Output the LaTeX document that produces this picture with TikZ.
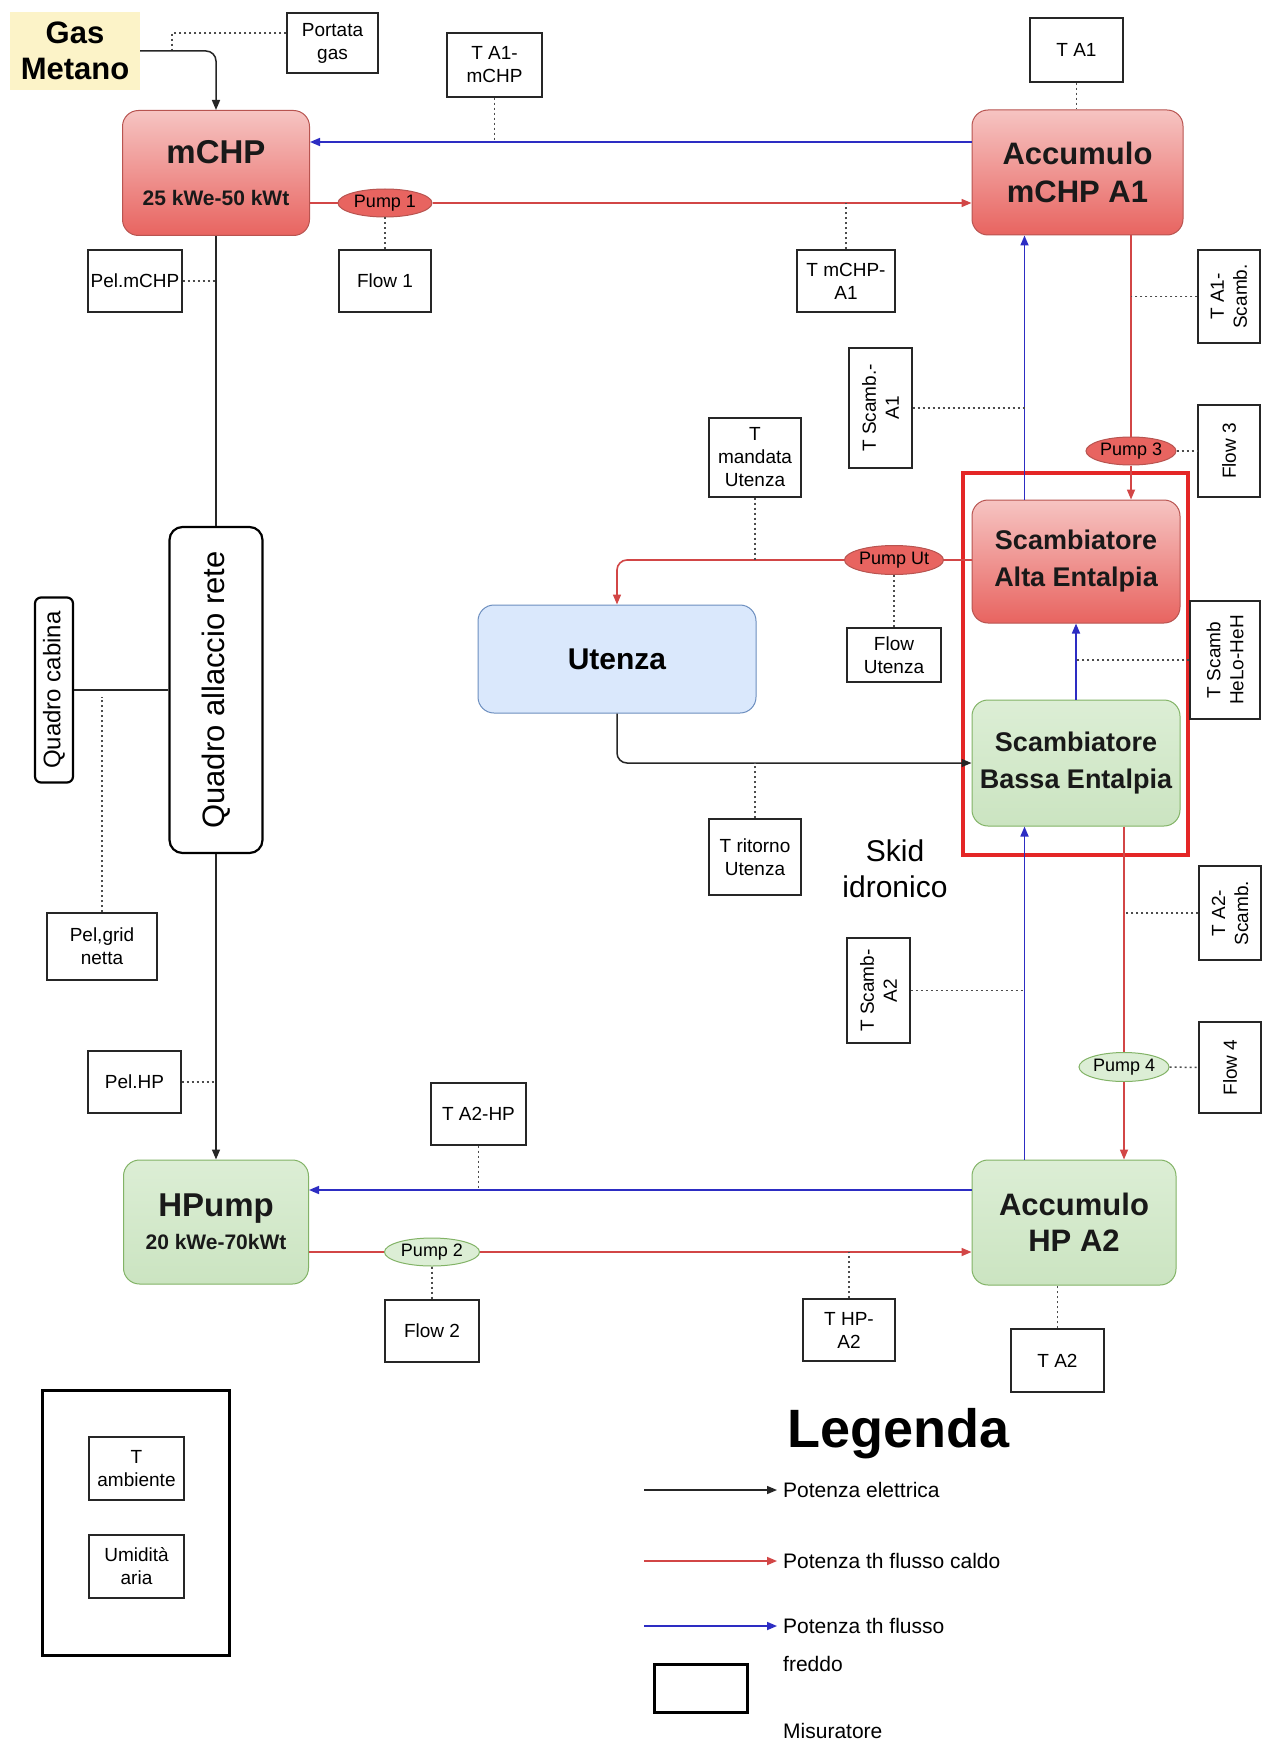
\documentclass[tikz,border=0pt]{standalone}
\usepackage{fontspec}
\setmainfont{Liberation Sans}
\usetikzlibrary{arrows.meta,shapes.geometric}
\definecolor{hotline}{RGB}{210,70,70}
\definecolor{coldline}{RGB}{45,45,195}
\definecolor{redtop}{RGB}{246,196,194}
\definecolor{redbot}{RGB}{232,100,96}
\definecolor{redstroke}{RGB}{184,84,80}
\definecolor{greentop}{RGB}{220,238,213}
\definecolor{greenbot}{RGB}{203,228,193}
\definecolor{greenstroke}{RGB}{130,179,102}
\definecolor{bluefill}{RGB}{218,232,252}
\definecolor{bluestroke}{RGB}{108,142,191}
\definecolor{gasfill}{RGB}{252,243,200}
\definecolor{skidred}{RGB}{228,38,38}
\tikzset{
  sz/.style 2 args={minimum width=#1,minimum height=#2},
  meas/.style={draw=black!85,line width=1.2pt,fill=white,align=center,inner sep=1pt,
    font=\fontsize{19}{23}\selectfont},
  hotbox/.style={draw=redstroke,line width=1pt,rounded corners=16pt,top color=redtop,
    bottom color=redbot,align=center,text=black!90},
  greenbox/.style={draw=greenstroke,line width=1pt,rounded corners=16pt,top color=greentop,
    bottom color=greenbot,align=center,text=black!90},
  pumphot/.style={ellipse,draw=redstroke,line width=1pt,fill=redbot,inner sep=0pt,
    font=\fontsize{18}{20}\selectfont},
  pumpgreen/.style={ellipse,draw=greenstroke,line width=1pt,fill=greentop,inner sep=0pt,
    font=\fontsize{18}{20}\selectfont},
  hot/.style={draw=hotline,line width=1.6pt},
  cold/.style={draw=coldline,line width=1.6pt},
  elec/.style={draw=black!85,line width=1.5pt},
  dotl/.style={draw=black!70,line width=1.5pt,dash pattern=on 2pt off 3pt},
  arr/.style={-{Triangle[length=10pt,width=8pt]}},
  legtxt/.style={anchor=west,inner sep=6pt,font=\fontsize{21}{25}\selectfont}
}
\begin{document}
\begin{tikzpicture}[x=1pt,y=-1pt]
\fill[white] (0,0) rectangle (1263,1744);
\useasboundingbox (0,0) rectangle (1263,1744);

% skid frame
\node[draw=skidred,line width=4.5pt,sz={225}{382}] (skid) at (1075.5,664) {};

% main units
\node[fill=gasfill,sz={130}{78},align=center,font=\fontsize{31}{36}\selectfont\bfseries] (gas) at (75,51) {Gas\\Metano};
\node[hotbox,sz={187}{125}] (mchp) at (216,173)
  {\fontsize{33}{36}\selectfont\bfseries mCHP\\[26pt]\fontsize{21}{24}\selectfont\bfseries 25 kWe-50 kWt};
\node[hotbox,sz={211}{125},font=\fontsize{31}{38}\selectfont\bfseries] (a1) at (1077.5,172.5) {Accumulo\\mCHP A1};
\node[hotbox,sz={208}{123},font=\fontsize{27}{37}\selectfont\bfseries] (alta) at (1076,561.5) {Scambiatore\\Alta Entalpia};
\node[greenbox,sz={208}{126},font=\fontsize{27}{37}\selectfont\bfseries] (bassa) at (1076,763) {Scambiatore\\Bassa Entalpia};
\node[draw=bluestroke,line width=1pt,fill=bluefill,rounded corners=16pt,sz={278}{108},
  font=\fontsize{30}{34}\selectfont\bfseries] (utenza) at (617,659) {Utenza};
\node[greenbox,sz={204}{125},font=\fontsize{31}{36}\selectfont\bfseries] (a2) at (1074,1222.5) {Accumulo\\HP A2};
\node[greenbox,sz={185}{124}] (hpump) at (216,1222)
  {\fontsize{33}{36}\selectfont\bfseries HPump\\[10pt]\fontsize{21}{24}\selectfont\bfseries 20 kWe-70kWt};
\node[draw=black,line width=2.2pt,fill=white,rounded corners=13pt,rotate=90,sz={326}{93},
  font=\fontsize{31}{34}\selectfont] (quadro) at (216,690) {Quadro allaccio rete};
\node[draw=black,line width=2.2pt,fill=white,rounded corners=6pt,rotate=90,sz={185}{38},inner sep=0pt,
  font=\fontsize{24}{26}\selectfont] (cabina) at (54,690) {Quadro cabina};
\node[align=center,font=\fontsize{30}{36}\selectfont] (skidlbl) at (895,869) {Skid\\idronico};

% pumps
\node[pumphot,sz={94}{28}] (pump1) at (385,203) {Pump 1};
\node[pumphot,sz={90}{28}] (pump3) at (1131,451) {Pump 3};
\node[pumphot,sz={91}{29}] (pumpUt) at (894,560) {Pump Ut};
\node[pumpgreen,sz={90}{29}] (pump4) at (1124,1067) {Pump 4};
\node[pumpgreen,sz={95}{28}] (pump2) at (432,1252) {Pump 2};

% measurement boxes
\node[meas,sz={91}{60}] (portata) at (332.5,43) {Portata\\gas};
\node[meas,sz={95}{64}] (tA1mchp) at (494.5,65) {T A1-\\mCHP};
\node[meas,sz={93}{64}] (tA1) at (1076.5,50) {T A1};
\node[meas,sz={92}{62}] (flow1) at (385,281) {Flow 1};
\node[meas,sz={98}{62}] (tmchpA1) at (846,281) {T mCHP-\\A1};
\node[meas,sz={94}{62}] (pelmchp) at (135,281) {Pel.mCHP};
\node[meas,rotate=90,sz={93}{62}] (tA1scamb) at (1229,296.5) {T A1-\\Scamb.};
\node[meas,rotate=90,sz={120}{63}] (tscambA1) at (880.5,408) {T Scamb.-\\A1};
\node[meas,rotate=90,sz={92}{62}] (flow3) at (1229,451) {Flow 3};
\node[meas,sz={92}{79}] (tmandata) at (755,457.5) {T\\mandata\\Utenza};
\node[meas,sz={94}{54}] (flowUt) at (894,655) {Flow\\Utenza};
\node[meas,rotate=90,sz={118}{70}] (tHe) at (1225,660) {T Scamb\\HeLo-HeH};
\node[meas,sz={92}{76}] (tritorno) at (755,857) {T ritorno\\Utenza};
\node[meas,rotate=90,sz={94}{62}] (tA2scamb) at (1230,913) {T A2-\\Scamb.};
\node[meas,rotate=90,sz={105}{63}] (tscambA2) at (878.5,990.5) {T Scamb-\\A2};
\node[meas,rotate=90,sz={91}{62}] (flow4) at (1230,1067.5) {Flow 4};
\node[meas,sz={93}{62}] (pelhp) at (134.5,1082) {Pel.HP};
\node[meas,sz={95}{62}] (tA2hp) at (478.5,1114) {T A2-HP};
\node[meas,sz={94}{62}] (flow2) at (432,1331) {Flow 2};
\node[meas,sz={92}{62}] (thpA2) at (849,1330) {T HP-\\A2};
\node[meas,sz={93}{63}] (tA2) at (1057.5,1360.5) {T A2};
\node[meas,sz={110}{67}] (pelgrid) at (102,946.5) {Pel,grid\\netta};

% environment box
\node[draw=black,line width=3pt,sz={187}{265}] (envbox) at (135.5,1522.5) {};
\node[meas,sz={95}{63}] (tamb) at (136.5,1468.5) {T\\ambiente};
\node[meas,sz={95}{63}] (umid) at (136.5,1566.5) {Umidità\\aria};

% coordinates
\coordinate (bluetop) at (0,142);
\coordinate (bluebot) at (0,1190);
\coordinate (colx) at (1024.5,0);
\coordinate (gastap) at (172,50);
\coordinate (gridtap) at (102,697);

% electrical connections
\draw[elec,arr,rounded corners=10pt] (gas.east) -| (mchp.north);
\draw[elec] (mchp.south) -- (mchp.south |- quadro.east);
\draw[elec,arr] (hpump.north |- quadro.west) -- (hpump.north);
\draw[elec] (cabina.south) -- (cabina.south -| quadro.north);

% hot / cold loops top
\draw[cold,arr] (a1.west |- bluetop) -- (mchp.east |- bluetop);
\draw[hot] (mchp.east |- pump1) -- (pump1.west);
\draw[hot,arr] (pump1.east) -- (a1.west |- pump1);
\draw[cold,arr] (alta.north -| colx) -- (a1.south -| colx);
\draw[hot] (a1.south -| pump3) -- (pump3.north);
\draw[hot,arr] (pump3.south) -- (alta.north -| pump3);
\draw[cold,arr] (bassa.north) -- (alta.south);
\draw[cold,arr] (a2.north -| colx) -- (bassa.south -| colx);
\draw[hot] (bassa.south -| pump4) -- (pump4.north);
\draw[hot,arr] (pump4.south) -- (a2.north -| pump4);
\draw[hot] (alta.west |- pumpUt) -- (pumpUt.east);
\draw[hot,arr,rounded corners=10pt] (pumpUt.west) -| (utenza.north);
\draw[elec,arr,rounded corners=10pt] (utenza.south) |- (bassa.west);

% bottom loop
\draw[cold,arr] (a2.west |- bluebot) -- (hpump.east |- bluebot);
\draw[hot] (hpump.east |- pump2) -- (pump2.west);
\draw[hot,arr] (pump2.east) -- (a2.west |- pump2);

% measurement taps
\draw[dotl] ([yshift=10pt]portata.west) -| (gastap);
\draw[dotl] (tA1mchp.south) -- (tA1mchp.south |- bluetop);
\draw[dotl] (tA1.south) -- (tA1.south |- a1.north);
\draw[dotl] (pump1.south) -- (flow1.north);
\draw[dotl] (tmchpA1.north) -- (tmchpA1.north |- pump1);
\draw[dotl] (pelmchp.east) -- (pelmchp.east -| mchp.south);
\draw[dotl] (tA1scamb.north) -- (tA1scamb.north -| pump3);
\draw[dotl] (tscambA1.south) -- (tscambA1.south -| colx);
\draw[dotl] (pump3.east) -- (flow3.north);
\draw[dotl] (tmandata.south) -- (tmandata.south |- pumpUt);
\draw[dotl] (pumpUt.south) -- (flowUt.north);
\draw[dotl] (tHe.north) -- (tHe.north -| bassa.north);
\draw[dotl] (tritorno.north) -- (tritorno.north |- bassa.west);
\draw[dotl] (tA2scamb.north) -- (tA2scamb.north -| pump4);
\draw[dotl] (tscambA2.south) -- (tscambA2.south -| colx);
\draw[dotl] (pump4.east) -- (flow4.north);
\draw[dotl] (pelhp.east) -- (pelhp.east -| hpump.north);
\draw[dotl] (tA2hp.south) -- (tA2hp.south |- bluebot);
\draw[dotl] (pump2.south) -- (flow2.north);
\draw[dotl] (thpA2.north) -- (thpA2.north |- pump2);
\draw[dotl] (tA2.north) -- (tA2.north |- a2.south);
\draw[dotl] (pelgrid.north) -- (gridtap);

% legend
\node[anchor=base west,inner sep=0pt,font=\fontsize{54}{60}\selectfont\bfseries] (legtitle) at (787,1447) {Legenda};
\node[legtxt] (lgE) at (777,1490) {Potenza elettrica};
\node[legtxt] (lgH) at (777,1561) {Potenza th flusso caldo};
\node[legtxt] (lgC) at (777,1626) {Potenza th flusso};
\node[legtxt] (lgC2) at (777,1664) {freddo};
\node[legtxt] (lgM) at (777,1731) {Misuratore};
\coordinate (lgEs) at (644,1490);
\coordinate (lgHs) at (644,1561);
\coordinate (lgCs) at (644,1626);
\draw[elec,arr] (lgEs) -- (lgE.west);
\draw[hot,arr] (lgHs) -- (lgH.west);
\draw[cold,arr] (lgCs) -- (lgC.west);
\node[draw=black,line width=3pt,sz={93}{48}] (lgbox) at (700.5,1688) {};
\end{tikzpicture}
\end{document}
